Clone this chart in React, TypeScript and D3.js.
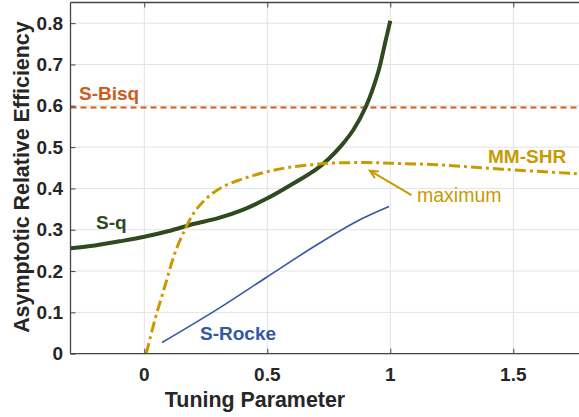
import { useEffect, useRef } from "react";
import * as d3 from "d3";

// S-q estimator
const sqX = [-0.3, -0.2, -0.1, 0, 0.1, 0.2, 0.3, 0.4, 0.5, 0.6, 0.7, 0.75, 0.8, 0.85, 0.9, 0.95, 0.98, 1.0];
const sqY = [0.255, 0.262, 0.272, 0.283, 0.297, 0.314, 0.328, 0.348, 0.376, 0.41, 0.447, 0.472, 0.503, 0.542, 0.597, 0.68, 0.755, 0.806];

// MM-SHR estimator
const mmX = [0.008, 0.043, 0.083, 0.124, 0.164, 0.205, 0.253, 0.307, 0.375, 0.442, 0.51, 0.578, 0.66, 0.75, 0.9, 1.0, 1.2, 1.47, 1.78];
const mmY = [0, 0.082, 0.162, 0.243, 0.299, 0.344, 0.376, 0.4, 0.418, 0.431, 0.442, 0.45, 0.456, 0.461, 0.4625, 0.461, 0.457, 0.446, 0.435];

// S-Rocke estimator
const rockeX = [0.072, 0.293, 0.497, 0.7, 0.863, 0.995];
const rockeY = [0.027, 0.106, 0.185, 0.263, 0.32, 0.356];

// S-Bisq constant efficiency
const bisqValue = 0.596;

const xTicks = [0, 0.5, 1, 1.5];
const yTicks = [0, 0.1, 0.2, 0.3, 0.4, 0.5, 0.6, 0.7, 0.8];

const FONT = "'Liberation Sans', Arial, sans-serif";

const App = () => {
    const chartRef = useRef<SVGSVGElement>(null);

    useEffect(() => {
        const svg = d3.select(chartRef.current);
        svg.selectAll("*").remove();

        const width = 579;
        const height = 417;
        const left = 70.5;
        const top = 2.5;
        const bottom = 353.7;

        const x = d3.scaleLinear().domain([-0.3, 1.8]).range([left, left + 2.1 * 246]);
        const y = d3.scaleLinear().domain([0, 0.85]).range([bottom, top]);

        svg.attr("width", width).attr("height", height).style("font-family", FONT);

        // grid
        const grid = svg.append("g").attr("stroke", "#e3e3e3").attr("stroke-width", 1);
        xTicks.forEach((t) => {
            grid.append("line").attr("x1", x(t)).attr("x2", x(t)).attr("y1", top).attr("y2", bottom);
        });
        yTicks.forEach((t) => {
            grid.append("line").attr("x1", left).attr("x2", width).attr("y1", y(t)).attr("y2", y(t));
        });

        // lines
        const toPts = (xs: number[], ys: number[]) => xs.map((v, i) => [v, ys[i]] as [number, number]);
        const line = d3
            .line<[number, number]>()
            .x((d) => x(d[0]))
            .y((d) => y(d[1]))
            .curve(d3.curveCatmullRom.alpha(0.5));

        svg.append("line")
            .attr("x1", left)
            .attr("x2", width)
            .attr("y1", y(bisqValue))
            .attr("y2", y(bisqValue))
            .attr("stroke", "#cd5c1d")
            .attr("stroke-width", 2)
            .attr("stroke-dasharray", "6,4");

        svg.append("path")
            .attr("d", line(toPts(rockeX, rockeY)))
            .attr("fill", "none")
            .attr("stroke", "#3159a6")
            .attr("stroke-width", 1.6);

        svg.append("path")
            .attr("d", line(toPts(sqX, sqY)))
            .attr("fill", "none")
            .attr("stroke", "#2e4a1e")
            .attr("stroke-width", 4);

        svg.append("path")
            .attr("d", line(toPts(mmX, mmY)))
            .attr("fill", "none")
            .attr("stroke", "#c99a00")
            .attr("stroke-width", 3)
            .attr("stroke-dasharray", "11,4,3,4");

        // axes (inward ticks)
        const axisColor = "#444";
        const yAxis = svg.append("g").attr("transform", `translate(${left},0)`).call(
            d3.axisRight(y).tickValues(yTicks).tickSize(5).tickFormat(() => "")
        );
        yAxis.select(".domain").remove();
        yAxis.selectAll("line").attr("stroke", axisColor);

        const xAxis = svg.append("g").attr("transform", `translate(0,${bottom})`).call(
            d3.axisTop(x).tickValues(xTicks).tickSize(5).tickFormat(() => "")
        );
        xAxis.select(".domain").remove();
        xAxis.selectAll("line").attr("stroke", axisColor);

        const xTop = svg.append("g").attr("transform", `translate(0,${top})`).call(
            d3.axisBottom(x).tickValues(xTicks).tickSize(5).tickFormat(() => "")
        );
        xTop.select(".domain").remove();
        xTop.selectAll("line").attr("stroke", axisColor);

        svg.append("line").attr("x1", left).attr("x2", width).attr("y1", top).attr("y2", top)
            .attr("stroke", axisColor).attr("stroke-width", 1.3);
        svg.append("line").attr("x1", left).attr("x2", width).attr("y1", bottom).attr("y2", bottom)
            .attr("stroke", axisColor).attr("stroke-width", 1.3);
        svg.append("line").attr("x1", left).attr("x2", left).attr("y1", top).attr("y2", bottom)
            .attr("stroke", axisColor).attr("stroke-width", 1.3);

        // tick labels
        svg.append("g").selectAll("text").data(yTicks).join("text")
            .attr("x", 63)
            .attr("y", (d) => y(d) + 6.5)
            .attr("text-anchor", "end")
            .attr("font-size", 19)
            .attr("font-weight", "bold")
            .attr("fill", "#262626")
            .text((d) => d3.format("~g")(d));

        svg.append("g").selectAll("text").data(xTicks).join("text")
            .attr("x", (d) => x(d))
            .attr("y", 381)
            .attr("text-anchor", "middle")
            .attr("font-size", 19)
            .attr("font-weight", "bold")
            .attr("fill", "#262626")
            .text((d) => d3.format("~g")(d));

        // axis titles
        svg.append("text")
            .attr("x", x(0.45))
            .attr("y", 407)
            .attr("text-anchor", "middle")
            .attr("font-size", 21.4)
            .attr("font-weight", "bold")
            .attr("fill", "#262626")
            .text("Tuning Parameter");

        svg.append("text")
            .attr("transform", `translate(29,${(top + bottom) / 2 - 1}) rotate(-90)`)
            .attr("text-anchor", "middle")
            .attr("font-size", 21.4)
            .attr("font-weight", "bold")
            .attr("fill", "#262626")
            .text("Asymptotic Relative Efficiency");

        // series labels
        const label = (txt: string, px: number, py: number, color: string, bold = true, size = 19) =>
            svg.append("text")
                .attr("x", px)
                .attr("y", py)
                .attr("font-size", size)
                .attr("font-weight", bold ? "bold" : "normal")
                .attr("fill", color)
                .text(txt);

        label("S-Bisq", 79, 100, "#cd5c1d");
        label("S-q", 96, 229, "#2e4a1e");
        label("MM-SHR", 488, 163, "#c99a00");
        label("S-Rocke", 200, 340, "#3159a6");
        label("maximum", 417, 202, "#c99a00", false, 19.5);

        // arrow to maximum
        const ax1 = x(1.086), ay1 = y(0.384), ax2 = x(0.917), ay2 = y(0.443);
        svg.append("line")
            .attr("x1", ax1).attr("y1", ay1).attr("x2", ax2).attr("y2", ay2)
            .attr("stroke", "#c99a00").attr("stroke-width", 2);
        const ang = Math.atan2(ay2 - ay1, ax2 - ax1);
        const hl = 9, hw = 0.45;
        svg.append("path")
            .attr("d", `M${ax2 - hl * Math.cos(ang - hw)},${ay2 - hl * Math.sin(ang - hw)} L${ax2},${ay2} L${ax2 - hl * Math.cos(ang + hw)},${ay2 - hl * Math.sin(ang + hw)}`)
            .attr("fill", "none")
            .attr("stroke", "#c99a00")
            .attr("stroke-width", 2);
    }, []);

    return (
        <div style={{ position: "absolute", left: 0, top: 0 }}>
            <svg ref={chartRef}></svg>
        </div>
    );
};

export default App;
